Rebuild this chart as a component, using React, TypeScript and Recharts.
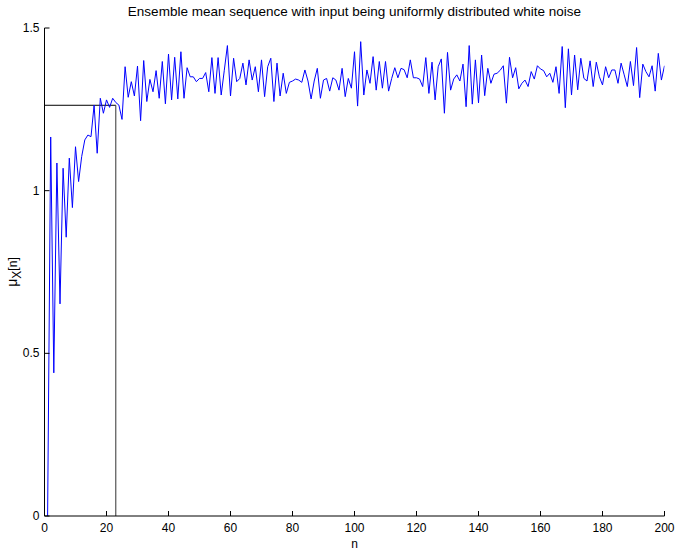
import React from "react";
import { LineChart, Line, XAxis, YAxis, ReferenceLine } from "recharts";

// Ensemble mean values, n = 1..200 (split into blocks of 50)
const muBlock1 = [
  0.0, 1.165, 0.44, 1.085, 0.652, 1.069, 0.857, 1.1, 0.948, 1.135,
  1.028, 1.105, 1.156, 1.171, 1.166, 1.263, 1.115, 1.284, 1.238, 1.279,
  1.256, 1.284, 1.271, 1.263, 1.219, 1.381, 1.287, 1.335, 1.291, 1.383,
  1.215, 1.4, 1.274, 1.342, 1.304, 1.369, 1.284, 1.397, 1.267, 1.42,
  1.279, 1.41, 1.282, 1.427, 1.284, 1.378, 1.35, 1.35, 1.335, 1.345,
];
const muBlock2 = [
  1.345, 1.363, 1.304, 1.409, 1.299, 1.409, 1.294, 1.37, 1.446, 1.291,
  1.407, 1.335, 1.345, 1.392, 1.325, 1.402, 1.34, 1.381, 1.304, 1.402,
  1.289, 1.381, 1.407, 1.274, 1.392, 1.291, 1.361, 1.299, 1.333, 1.337,
  1.343, 1.34, 1.333, 1.371, 1.337, 1.282, 1.337, 1.376, 1.284, 1.34,
  1.345, 1.306, 1.347, 1.34, 1.309, 1.376, 1.289, 1.345, 1.315, 1.427,
];
const muBlock3 = [
  1.26, 1.458, 1.294, 1.371, 1.33, 1.412, 1.309, 1.397, 1.315, 1.397,
  1.306, 1.345, 1.378, 1.347, 1.376, 1.372, 1.347, 1.402, 1.347, 1.347,
  1.343, 1.32, 1.409, 1.299, 1.395, 1.279, 1.381, 1.405, 1.238, 1.425,
  1.309, 1.343, 1.356, 1.337, 1.389, 1.258, 1.446, 1.266, 1.402, 1.27,
  1.417, 1.292, 1.376, 1.33, 1.358, 1.361, 1.37, 1.384, 1.269, 1.41,
];
const muBlock4 = [
  1.347, 1.378, 1.313, 1.33, 1.34, 1.32, 1.366, 1.343, 1.384, 1.374,
  1.369, 1.35, 1.361, 1.333, 1.381, 1.299, 1.443, 1.255, 1.436, 1.294,
  1.417, 1.31, 1.407, 1.345, 1.337, 1.399, 1.32, 1.395, 1.35, 1.325,
  1.381, 1.347, 1.371, 1.371, 1.33, 1.392, 1.356, 1.32, 1.397, 1.323,
  1.44, 1.286, 1.389, 1.366, 1.35, 1.384, 1.306, 1.422, 1.34, 1.384,
];

const xTicks = [0, 20, 40, 60, 80, 100, 120, 140, 160, 180, 200];
const yTicks = [0, 0.5, 1, 1.5];
const xDomain = [0, 200];
const yDomain = [0, 1.5];

// marker lines
const markerN = 23;
const markerMu = 1.2625;

const titleText = "Ensemble mean sequence with input being uniformly distributed white noise";

const muAll = [...muBlock1, ...muBlock2, ...muBlock3, ...muBlock4];
const data = muAll.map((v, i) => ({ n: i + 1, mu: v }));

const W = 681;
const H = 554;
const PL = 44.5;
const PR = 664.5;
const PT = 28;
const PB = 516;
const TICK = 5;
const FONT = "'Liberation Sans', Arial, Helvetica, sans-serif";
const FS = 12;

const fmt = (v: number) => String(v);

const BottomTick = (props: any) => {
  const { x, y, payload } = props;
  return (
    <g>
      <line x1={x} x2={x} y1={y} y2={y - TICK} stroke="#000" strokeWidth={1} />
      <text x={x} y={y + 16} textAnchor="middle" fontSize={FS} fontFamily={FONT} fill="#000">
        {fmt(payload.value)}
      </text>
    </g>
  );
};

const TopTick = (props: any) => {
  const { x, y } = props;
  return <line x1={x} x2={x} y1={y} y2={y + TICK} stroke="#000" strokeWidth={1} />;
};

const LeftTick = (props: any) => {
  const { x, y, payload } = props;
  return (
    <g>
      <line x1={x} x2={x + TICK} y1={y} y2={y} stroke="#000" strokeWidth={1} />
      <text x={x - 5} y={y + 4} textAnchor="end" fontSize={FS} fontFamily={FONT} fill="#000">
        {fmt(payload.value)}
      </text>
    </g>
  );
};

const RightTick = (props: any) => {
  const { x, y } = props;
  return <line x1={x} x2={x - TICK} y1={y} y2={y} stroke="#000" strokeWidth={1} />;
};

export default function App() {
  return (
    <div style={{ position: "absolute", left: 0, top: 0, width: W, height: H, background: "#fff" }}>
      <LineChart
        width={W}
        height={H}
        data={data}
        margin={{ top: PT, right: W - PR, bottom: H - PB - 20, left: 0.5 }}
      >
        <XAxis
          xAxisId="b"
          dataKey="n"
          type="number"
          domain={xDomain}
          ticks={xTicks}
          interval={0}
          height={20}
          tickSize={0}
          tickMargin={0}
          tickLine={false}
          axisLine={{ stroke: "#000", strokeWidth: 1 }}
          tick={BottomTick}
          allowDataOverflow
        />
        <XAxis
          xAxisId="t"
          orientation="top"
          dataKey="n"
          type="number"
          domain={xDomain}
          ticks={xTicks}
          interval={0}
          height={0}
          tickSize={0}
          tickMargin={0}
          tickLine={false}
          axisLine={{ stroke: "#000", strokeWidth: 1 }}
          tick={TopTick}
          allowDataOverflow
        />
        <YAxis
          yAxisId="l"
          type="number"
          domain={yDomain}
          ticks={yTicks}
          interval={0}
          width={44}
          tickSize={0}
          tickMargin={0}
          tickLine={false}
          axisLine={{ stroke: "#000", strokeWidth: 1 }}
          tick={LeftTick}
          allowDataOverflow
        />
        <YAxis
          yAxisId="r"
          orientation="right"
          type="number"
          domain={yDomain}
          ticks={yTicks}
          interval={0}
          width={0}
          tickSize={0}
          tickMargin={0}
          tickLine={false}
          axisLine={{ stroke: "#000", strokeWidth: 1 }}
          tick={RightTick}
          allowDataOverflow
        />
        <ReferenceLine
          xAxisId="b"
          yAxisId="l"
          segment={[
            { x: 0, y: markerMu },
            { x: markerN, y: markerMu },
          ]}
          stroke="#000"
          strokeWidth={1}
        />
        <ReferenceLine
          xAxisId="b"
          yAxisId="l"
          segment={[
            { x: markerN, y: 0 },
            { x: markerN, y: markerMu },
          ]}
          stroke="#333"
          strokeWidth={1}
        />
        <Line
          xAxisId="b"
          yAxisId="l"
          type="linear"
          dataKey="mu"
          stroke="#0000ff"
          strokeWidth={1}
          dot={false}
          activeDot={false}
          isAnimationActive={false}
        />
        <text x={(PL + PR) / 2} y={16} textAnchor="middle" fontSize={13.5} fontFamily={FONT} fill="#000">
          {titleText}
        </text>
        <text x={(PL + PR) / 2} y={548} textAnchor="middle" fontSize={FS} fontFamily={FONT} fill="#000">
          n
        </text>
        <text
          x={17}
          y={(PT + PB) / 2}
          textAnchor="middle"
          fontSize={FS + 2}
          fontFamily={FONT}
          fill="#000"
          transform={`rotate(-90 17 ${(PT + PB) / 2})`}
        >
          <tspan>μ</tspan>
          <tspan dy={4} fontSize={FS}>X</tspan>
          <tspan dy={-4} fontSize={FS}>[n]</tspan>
        </text>
      </LineChart>
    </div>
  );
}
